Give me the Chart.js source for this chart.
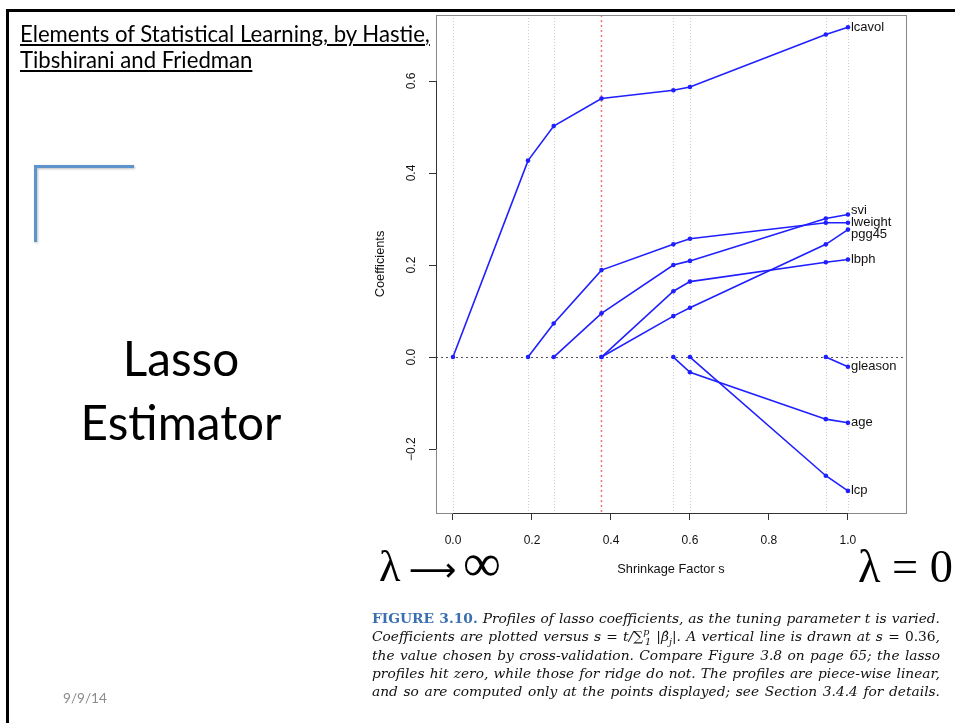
<!DOCTYPE html>
<html>
<head>
<meta charset="utf-8">
<title>Lasso Estimator</title>
<script src="https://cdn.jsdelivr.net/npm/chart.js@4.4.1/dist/chart.umd.min.js"></script>
<style>
  html, body { margin: 0; padding: 0; background: #fff; overflow: hidden; }
  #slide { position: relative; width: 955px; height: 723px; overflow: hidden; background: #fff; }
  .rule { position: absolute; background: #000; }
  #bracket { position: absolute; left: 34px; top: 165px; width: 97px; height: 74px;
             border-top: 3px solid #5f93cc; border-left: 3px solid #5f93cc;
             filter: drop-shadow(1px 1px 1px rgba(0,0,0,0.25)); }
  #chart { position: absolute; left: 0; top: 0; }
  .txt { position: absolute; white-space: nowrap; font-size: 20px; }
  .slide-font { font-family: Lato, "Open Sans", sans-serif; color: #000; }
  .title { text-decoration: underline; text-decoration-thickness: 1.5px; text-underline-offset: 2px; }
  .date { color: #8b8b8b; font-size: 15px; }
  .lam { font-family: "Liberation Serif", "DejaVu Serif", serif; font-size: 40px; color: #000; }
  .lam .arrow { font-family: "DejaVu Sans", sans-serif; font-size: 0.75em; margin: 0 0.2em 0 0.25em; }
  .lam .inf { font-size: 1.2em; }
  .cap { font-family: "DejaVu Serif", serif; font-style: italic; font-size: 13px; color: #111; }
  .cap.just { width: 568px; text-align: justify; text-align-last: justify; }
  .cap .fig { font-style: normal; font-weight: bold; color: #3a6fb0; }
  .cap .up { font-style: normal; }
  .cap sup, .cap sub { line-height: 0; font-size: 0.7em; font-style: italic; }
</style>
</head>
<body>
<div id="slide">
  <canvas id="chart" width="955" height="723"></canvas>
  <div class="rule" style="left:6px; top:9px; width:949px; height:3px;"></div>
  <div class="rule" style="left:6px; top:9px; width:3px; height:714px;"></div>
  <div id="bracket"></div>

  <div id="t1" class="txt slide-font title">Elements of Statistical Learning, by Hastie,</div>
  <div id="t2" class="txt slide-font title">Tibshirani and Friedman</div>
  <div id="h1" class="txt slide-font">Lasso</div>
  <div id="h2" class="txt slide-font">Estimator</div>
  <div id="date" class="txt slide-font date">9/9/14</div>
  <div id="lamInf" class="txt lam">λ<span class="arrow">⟶</span><span class="inf">∞</span></div>
  <div id="lamZero" class="txt lam">λ = 0</div>

  <div class="txt cap"><span><span class="fig">FIGURE 3.10.</span> Profiles of lasso coefficients, as the tuning parameter t is varied.</span></div>
  <div class="txt cap"><span>Coefficients are plotted versus s <span class="up">=</span> t/<span class="up">∑</span><sup>p</sup><sub style="margin-left:-0.45em">1</sub> |β̂<sub>j</sub>|. A vertical line is drawn at s <span class="up">= 0.36</span>,</span></div>
  <div class="txt cap"><span>the value chosen by cross-validation. Compare Figure 3.8 on page 65; the lasso</span></div>
  <div class="txt cap"><span>profiles hit zero, while those for ridge do not. The profiles are piece-wise linear,</span></div>
  <div class="txt cap"><span>and so are computed only at the points displayed; see Section 3.4.4 for details.</span></div>
</div>

<script>
// shrinkage factor s at each step of the lasso path
const steps = [0, 0.19, 0.255, 0.376, 0.558, 0.60, 0.944, 1.0];
const chosenS = 0.376; // cross-validated choice (red line)

// coefficient profiles (null = not yet in the model)
const lcavol  = [0, 0.427, 0.502, 0.562, 0.580, 0.587, 0.701, 0.717];
const lweight = [null, 0, 0.073, 0.189, 0.245, 0.257, 0.292, 0.292];
const svi     = [null, null, 0, 0.095, 0.200, 0.209, 0.301, 0.310];
const lbph    = [null, null, null, 0, 0.143, 0.164, 0.206, 0.212];
const pgg45   = [null, null, null, 0, 0.089, 0.107, 0.245, 0.277];
const age     = [null, null, null, null, 0, -0.033, -0.135, -0.143];
const lcp     = [null, null, null, null, null, 0, -0.258, -0.291];
const gleason = [null, null, null, null, null, null, 0, -0.021];

const varNames = ['lcavol', 'lweight', 'age', 'lbph', 'svi', 'lcp', 'gleason', 'pgg45'];
const xTicks = [0, 0.2, 0.4, 0.6, 0.8, 1.0];
const yTicks = [-0.2, 0, 0.2, 0.4, 0.6];
const xRange = [-0.043, 1.147];
const yRange = [-0.339, 0.7435];

const series = { lcavol, lweight, age, lbph, svi, lcp, gleason, pgg45 };
const fmt = v => (Math.abs(v) < 1e-9 ? 0 : v).toFixed(1).replace('-', '\u2212');

Chart.defaults.font.family = '"Liberation Sans", Arial, sans-serif';
Chart.defaults.color = '#111';

const blue = '#1f1fff';
const datasets = varNames.map(name => ({
  label: name,
  data: steps.map((s, i) => ({ x: s, y: series[name][i] })).filter(p => p.y !== null),
  borderColor: blue,
  backgroundColor: blue,
  borderWidth: 1.6,
  pointRadius: 2.3,
  pointBorderWidth: 0,
  tension: 0
}));

function seg(ctx, x1, y1, x2, y2) {
  ctx.beginPath(); ctx.moveTo(x1, y1); ctx.lineTo(x2, y2); ctx.stroke();
}

const lassoDecor = {
  id: 'lassoDecor',
  beforeDatasetsDraw(chart) {
    const { ctx, chartArea: a, scales: { x, y } } = chart;
    ctx.save();
    // step lines
    ctx.lineWidth = 1;
    ctx.strokeStyle = '#cfcfcf';
    ctx.setLineDash([1, 2]);
    steps.forEach(s => {
      if (s === chosenS) return;
      const px = Math.round(x.getPixelForValue(s)) + 0.5;
      seg(ctx, px, a.top, px, a.bottom);
    });
    // zero line
    ctx.strokeStyle = '#555';
    ctx.setLineDash([2, 3]);
    const py = Math.round(y.getPixelForValue(0)) + 0.5;
    seg(ctx, a.left, py, a.right, py);
    // chosen s
    ctx.strokeStyle = '#f07272';
    ctx.lineWidth = 1.5;
    ctx.setLineDash([2, 3]);
    const rx = x.getPixelForValue(chosenS);
    seg(ctx, rx, a.top, rx, a.bottom);
    ctx.restore();
  },
  afterDraw(chart) {
    const { ctx, chartArea: a, scales: { x, y } } = chart;
    ctx.save();
    // plot box
    ctx.strokeStyle = '#888';
    ctx.lineWidth = 1;
    ctx.strokeRect(Math.round(a.left) + 0.5, Math.round(a.top) + 0.5,
                   Math.round(a.right - a.left), Math.round(a.bottom - a.top));
    // axis lines between first and last tick
    ctx.strokeStyle = '#333';
    const lx = Math.round(a.left) + 0.5, by = Math.round(a.bottom) + 0.5;
    seg(ctx, lx, y.getPixelForValue(yTicks[0]), lx, y.getPixelForValue(yTicks[yTicks.length - 1]));
    seg(ctx, x.getPixelForValue(xTicks[0]), by, x.getPixelForValue(xTicks[xTicks.length - 1]), by);
    // rotated y tick labels
    ctx.fillStyle = '#111';
    ctx.font = '12px "Liberation Sans", Arial, sans-serif';
    ctx.textAlign = 'center';
    ctx.textBaseline = 'middle';
    yTicks.forEach(v => {
      ctx.save();
      ctx.translate(a.left - 24, y.getPixelForValue(v));
      ctx.rotate(-Math.PI / 2);
      ctx.fillText(fmt(v), 0, 0);
      ctx.restore();
    });
    // variable names at the end of each profile
    const last = steps.length - 1;
    const ends = varNames.map(n => ({ name: n, py: y.getPixelForValue(series[n][last]) }));
    ends.sort((p, q) => p.py - q.py);
    const gap = 12;
    for (let it = 0; it < 100; it++) {
      for (let i = 0; i < ends.length - 1; i++) {
        const g = ends[i + 1].py - ends[i].py;
        if (g < gap) { const d = (gap - g) / 2; ends[i].py -= d; ends[i + 1].py += d; }
      }
    }
    ctx.font = '13px "Liberation Sans", Arial, sans-serif';
    ctx.textAlign = 'left';
    const ex = x.getPixelForValue(steps[last]) + 3;
    ends.forEach(e => ctx.fillText(e.name, ex, e.py));
    ctx.restore();
  }
};

new Chart(document.getElementById('chart'), {
  type: 'line',
  data: { datasets },
  options: {
    responsive: false,
    animation: false,
    devicePixelRatio: 1,
    layout: { padding: { left: 360, right: 49, top: 15, bottom: 145 } },
    plugins: { legend: { display: false }, tooltip: { enabled: false } },
    scales: {
      x: {
        type: 'linear',
        min: xRange[0], max: xRange[1],
        afterBuildTicks: s => { s.ticks = xTicks.map(v => ({ value: v })); },
        afterFit: s => { s.height = 65; },
        grid: { drawOnChartArea: false, drawTicks: true, tickLength: 7, color: '#333' },
        border: { display: false },
        ticks: { callback: v => fmt(v), padding: 13, maxRotation: 0,
                 font: { size: 12 }, color: '#111' },
        title: { display: true, text: 'Shrinkage Factor s', font: { size: 12.8 },
                 color: '#111', padding: { top: 0, bottom: 1 } }
      },
      y: {
        type: 'linear',
        min: yRange[0], max: yRange[1],
        afterBuildTicks: s => { s.ticks = yTicks.map(v => ({ value: v })); },
        afterFit: s => { s.width = 76; },
        grid: { drawOnChartArea: false, drawTicks: true, tickLength: 7, color: '#333' },
        border: { display: false },
        ticks: { callback: v => fmt(v), color: 'rgba(0,0,0,0)', font: { size: 12 } },
        title: { display: true, text: 'Coefficients', font: { size: 12.8 },
                 color: '#111', padding: { top: 13, bottom: 0 } }
      }
    }
  },
  plugins: [lassoDecor]
});

// ---- slide text placement ----
const meas = document.createElement('canvas').getContext('2d');

function fontOf(el) {
  const cs = getComputedStyle(el);
  return `${cs.fontStyle} ${cs.fontWeight} ${cs.fontSize} ${cs.fontFamily}`;
}
function fitWidth(el, target) {
  const fs = parseFloat(getComputedStyle(el).fontSize);
  const w = el.getBoundingClientRect().width;
  el.style.fontSize = (fs * target / w) + 'px';
}
function place(el, x, baseline, align) {
  meas.font = fontOf(el);
  const m = meas.measureText('Hg');
  const fs = parseFloat(getComputedStyle(el).fontSize);
  el.style.lineHeight = fs + 'px';
  const asc = m.fontBoundingBoxAscent, desc = m.fontBoundingBoxDescent;
  el.style.top = (baseline - ((fs - (asc + desc)) / 2 + asc)) + 'px';
  const w = el.getBoundingClientRect().width;
  el.style.left = (align === 'center' ? x - w / 2 : x) + 'px';
}

const t1 = document.getElementById('t1'), t2 = document.getElementById('t2');
fitWidth(t1, 410);
t2.style.fontSize = t1.style.fontSize;
place(t1, 20, 43);
place(t2, 20, 69);

const h1 = document.getElementById('h1'), h2 = document.getElementById('h2');
h2.style.fontSize = '46px';
fitWidth(h2, 201);
h1.style.fontSize = h2.style.fontSize;
place(h1, 181, 376, 'center');
place(h2, 181, 440, 'center');

const date = document.getElementById('date');
fitWidth(date, 44);
place(date, 63, 704);

const li = document.getElementById('lamInf'), lz = document.getElementById('lamZero');
fitWidth(li, 122);
fitWidth(lz, 95);
place(li, 379, 578);
place(lz, 858, 583);

// caption: common font size so the widest line fits, then justify to 568px
const capLines = Array.from(document.querySelectorAll('.cap'));
const widest = Math.max(...capLines.map(l => l.firstElementChild.getBoundingClientRect().width));
const capSize = 13 * 562 / widest;
const capBase = [624, 642.25, 660.5, 678.75, 697];
capLines.forEach((l, i) => {
  l.style.fontSize = capSize + 'px';
  l.classList.add('just');
  place(l, 372, capBase[i]);
});
</script>
</body>
</html>
